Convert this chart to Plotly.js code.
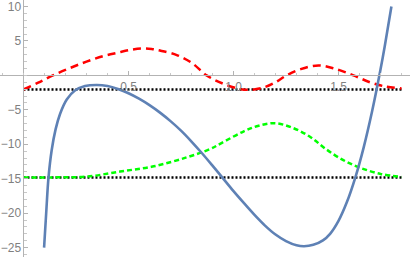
<!DOCTYPE html>
<html><head><meta charset="utf-8">
<script src="https://cdn.plot.ly/plotly-3.0.1.min.js"></script>
<style>html,body{margin:0;padding:0;background:#fff}#chart{width:410px;height:257px}</style>
</head><body><div id="chart"></div>
<script>
// Blue solid curve
var blueX = [0.098, 0.109, 0.119, 0.134, 0.153, 0.174, 0.206, 0.245, 0.293, 0.349, 0.40, 0.45, 0.50, 0.55, 0.60, 0.65, 0.70, 0.75, 0.80, 0.85, 0.90, 0.95, 1.00, 1.05, 1.10, 1.15, 1.20, 1.25, 1.30, 1.336, 1.38, 1.426, 1.46, 1.50, 1.54, 1.58, 1.62, 1.66, 1.70, 1.72, 1.752];
var blueY = [-25.0, -19.5, -14.85, -10.9, -7.8, -5.6, -3.5, -2.2, -1.55, -1.39, -1.55, -1.98, -2.59, -3.38, -4.32, -5.41, -6.64, -8.02, -9.6, -11.3, -13.1, -14.95, -16.8, -18.55, -20.25, -21.8, -23.1, -24.05, -24.66, -24.8, -24.6, -23.95, -23.0, -21.12, -18.39, -14.83, -10.44, -5.21, 0.85, 4.2, 10.0];
// Red dashed curve
var redX = [0.0, 0.07, 0.14, 0.22, 0.30, 0.38, 0.45, 0.51, 0.563, 0.61, 0.65, 0.73, 0.80, 0.872, 0.95, 1.02, 1.078, 1.15, 1.20, 1.253, 1.32, 1.404, 1.48, 1.571, 1.65, 1.72, 1.80];
var redY = [-2.05, -1.05, 0.0, 1.05, 2.0, 2.8, 3.3, 3.7, 3.89, 3.82, 3.6, 2.95, 1.85, 0.0, -1.2, -1.9, -2.1, -1.7, -1.0, 0.0, 0.9, 1.45, 1.0, 0.0, -1.0, -1.6, -1.9];
// Green dashed curve
var greenX = [0.0, 0.15, 0.30, 0.46, 0.62, 0.777, 0.888, 0.936, 1.047, 1.12, 1.198, 1.28, 1.364, 1.44, 1.523, 1.602, 1.70, 1.80];
var greenY = [-14.83, -14.8, -14.7, -13.96, -13.2, -11.9, -10.7, -9.94, -8.15, -7.3, -6.94, -7.6, -8.9, -10.7, -12.3, -13.4, -14.3, -14.75];
// Black dotted reference levels
var levelX = [0.0, 1.8];
var levelHigh = [-2.05, -2.05];
var levelLow = [-14.83, -14.83];
// Ticks
var xTickVals = [0.5, 1.0, 1.5];
var xTickText = ["0.5", "1.0", "1.5"];
var yTickVals = [-25, -20, -15, -10, -5, 5, 10];
var yTickText = ["\u221225", "\u221220", "\u221215", "\u221210", "\u22125", "5", "10"];

var xr = [-0.1119, 1.8405];
var yr = [-26.36, 10.94];

var traces = [
  {x: levelX, y: levelHigh, mode: 'lines', line: {color: '#000', width: 2.5, dash: '2px,2px'}, hoverinfo: 'skip'},
  {x: levelX, y: levelLow, mode: 'lines', line: {color: '#000', width: 2.5, dash: '2px,2px'}, hoverinfo: 'skip'},
  {x: redX, y: redY, mode: 'lines', line: {color: '#ff0000', width: 2.5, dash: '8px,5px', shape: 'spline'}},
  {x: greenX, y: greenY, mode: 'lines', line: {color: '#00ff00', width: 2.5, dash: '5px,3px', shape: 'spline'}},
  {x: blueX, y: blueY, mode: 'lines', line: {color: '#5e81b5', width: 2.6, shape: 'spline', smoothing: 1}}
];

var axisCommon = {
  showgrid: false, zeroline: false, showline: true, linecolor: '#b3b3b3', linewidth: 1,
  ticks: 'inside', ticklen: 4, tickcolor: '#b3b3b3', tickwidth: 1,
  tickfont: {family: 'Liberation Sans, Arial, sans-serif', size: 12, color: '#808080'},
  tickmode: 'array', automargin: false, fixedrange: true, ticklabeloverflow: 'allow'
};

var layout = {
  width: 410, height: 257,
  margin: {l: 0, r: 0, t: 0, b: 0},
  paper_bgcolor: '#fff', plot_bgcolor: '#fff',
  showlegend: false,
  xaxis: Object.assign({}, axisCommon, {
    range: xr, tickvals: xTickVals, ticktext: xTickText,
    anchor: 'free', position: (0 - yr[0]) / (yr[1] - yr[0]),
    minor: {tickmode: 'linear', tick0: 0, dtick: 0.1, ticks: 'inside', ticklen: 2.5, tickcolor: '#c8c8c8', tickwidth: 1}
  }),
  yaxis: Object.assign({}, axisCommon, {
    range: yr, tickvals: yTickVals, ticktext: yTickText,
    anchor: 'free', position: (0 - xr[0]) / (xr[1] - xr[0]),
    minor: {tickmode: 'linear', tick0: 0, dtick: 1, ticks: 'inside', ticklen: 2.5, tickcolor: '#c8c8c8', tickwidth: 1}
  })
};

Plotly.newPlot('chart', traces, layout, {displayModeBar: false, staticPlot: true});
</script>
</body></html>
